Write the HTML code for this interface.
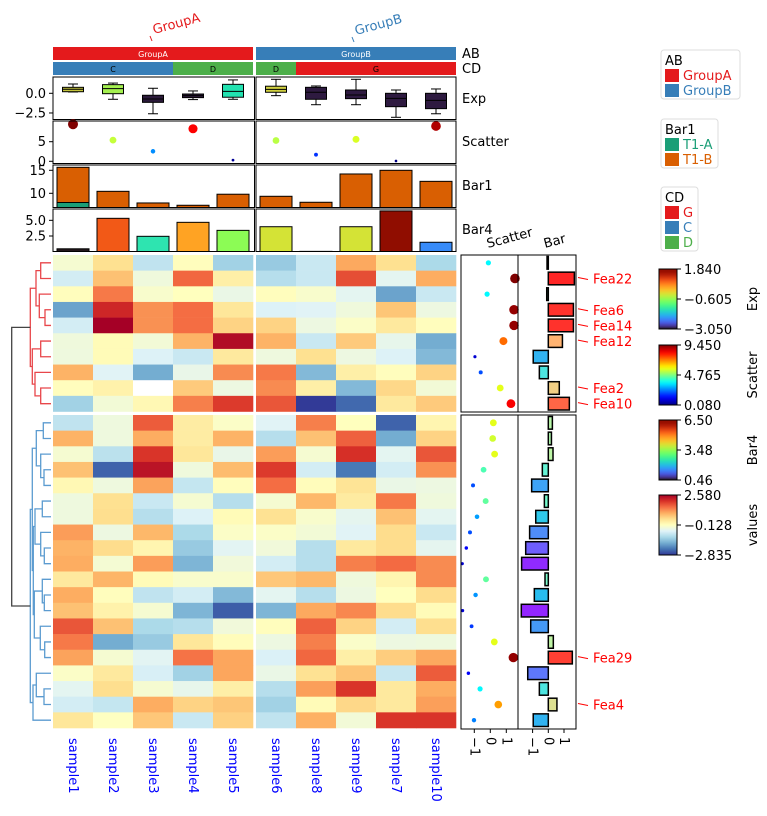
<!DOCTYPE html>
<html><head><meta charset="utf-8"><style>
html,body{margin:0;padding:0;background:#fff;}
svg{display:block;font-family:"DejaVu Sans","Liberation Sans",sans-serif;}
</style></head><body>
<svg id="c" width="767" height="816" viewBox="0 0 767 816" xmlns="http://www.w3.org/2000/svg"></svg>
<script>
// ---------- data ----------
const samples = ["sample1","sample2","sample3","sample4","sample5","sample6","sample8","sample9","sample7","sample10"];
const abGroups = ["GroupA","GroupA","GroupA","GroupA","GroupA","GroupB","GroupB","GroupB","GroupB","GroupB"];
const cdGroups = ["C","C","C","D","D","D","G","G","G","G"];
const heatTop = [
[-0.3,0.4,-1.0,-0.1,-1.3,-1.4,-0.9,1.0,0.4,-1.2],
[-0.8,0.75,-0.4,1.55,0.15,-1.1,-0.9,1.77,-0.6,0.96],
[-0.1,1.4,-0.25,-0.12,-0.5,-0.1,-0.25,-0.6,-1.85,-0.9],
[-1.85,2.15,1.2,1.5,0.3,-0.7,-0.65,-0.4,0.7,-0.45],
[-0.8,2.58,1.2,1.5,0.55,0.55,-0.45,-0.2,0.25,-0.1],
[-0.4,-0.05,-0.35,0.9,2.45,0.9,-0.9,0.65,-0.55,-1.75],
[-0.42,-0.05,-0.7,-0.9,0.25,-0.42,0.4,-0.45,-0.7,-1.6],
[0.9,-0.65,-1.75,-0.52,1.25,1.4,-1.6,0.15,-0.1,0.55],
[-0.1,0.1,null,0.65,-0.45,1.25,0.15,-1.6,0.5,-0.35],
[-1.3,-0.35,0.0,1.35,1.95,1.7,-2.8,-2.4,0.25,0.65]];
const heatBottom = [
[-1.0,-0.42,1.65,0.2,-0.2,-0.65,1.35,-0.12,-2.45,0.05],
[0.9,-0.42,0.96,0.2,0.9,-1.1,0.75,1.6,-1.75,0.55],
[-0.3,-1.05,2.0,0.3,-0.52,1.1,-0.3,2.05,-0.6,1.7],
[0.75,-2.45,2.35,-0.4,0.8,1.95,-0.8,-2.25,-0.8,1.2],
[0.0,-0.42,1.05,-0.95,-0.1,1.5,-0.08,0.35,-0.5,-0.45],
[-0.42,0.4,-0.9,-0.3,-1.1,-0.3,0.85,0.22,1.4,-0.4],
[-0.42,0.42,-1.1,-0.7,-0.05,0.38,-0.25,-0.58,0.75,-0.6],
[1.1,-0.45,0.85,-1.2,-0.2,-0.2,-0.35,-0.65,0.45,-0.9],
[0.9,0.45,0.05,-1.4,-0.62,-0.38,-1.1,0.25,0.45,-0.58],
[0.96,-0.32,1.1,-1.65,-0.38,-0.8,-1.1,1.35,1.52,1.25],
[0.25,0.88,-0.05,-0.25,-0.25,0.68,0.85,-0.4,0.05,1.25],
[0.96,-0.1,-1.0,-0.8,-1.6,-0.6,-1.1,-0.45,-0.12,0.45],
[0.75,0.1,-0.3,-1.65,-2.5,-1.65,1.0,1.28,0.45,-0.05],
[1.7,0.75,-1.2,-1.1,-0.38,-0.1,1.6,0.55,-0.8,0.42],
[1.4,-1.75,-1.4,0.3,-0.08,-0.45,1.35,-0.22,-0.45,-0.42],
[1.05,-0.3,-0.62,1.45,1.02,-0.72,1.55,0.15,0.62,1.0],
[-0.2,0.25,-0.75,-1.3,1.02,-0.5,0.38,0.72,-0.92,1.65],
[-0.6,0.42,-0.3,-0.55,0.15,-1.1,1.08,2.0,0.25,0.96],
[-0.8,-0.95,0.96,0.55,0.7,-1.3,-0.05,0.5,0.25,1.08],
[0.3,-0.15,0.68,-0.9,0.58,-1.0,0.92,-0.36,2.0,2.0]];
const expQ1 = [0.2,-0.05,-1.15,-0.55,-0.5,0.13,-0.76,-0.68,-1.7,-1.95];
const expQ3 = [0.76,1.1,-0.25,-0.09,1.14,0.9,0.76,0.42,0.0,0.0];
const expMed = [0.51,0.6,-0.72,-0.3,0.25,0.5,0.13,-0.22,-0.64,-0.9];
const expLo = [0.17,-0.76,-2.6,-0.8,-0.76,-0.3,-1.45,-1.45,-3.05,-2.6];
const expHi = [1.18,1.3,0.64,0.3,1.7,1.78,0.93,1.78,0.42,0.55];
const expColors = ["#c4c43c","#a4f050","#2b1a3a","#2b1a3a","#22e2b0","#d0d040","#2e1a40","#2e1a40","#2e1a40","#2e1a40"];
const scatterTop = [9.45,5.4,2.55,8.3,0.3,5.3,1.7,5.6,0.08,9.0];
const bar1A = [8.0,4.5,3.0,3.5,5.0,4.0,3.5,6.0,5.5,4.5];
const bar1Total = [15.65,10.43,7.9,7.4,9.8,9.35,8.05,14.2,15.0,12.6];
const bar4 = [0.46,5.32,2.45,4.68,3.4,3.98,0.05,3.98,6.5,1.5];
const rScatTop = [-0.12,1.54,-0.2,1.48,1.48,0.82,-0.96,-0.6,0.62,1.29];
const rScatBottom = [0.19,0.15,0.27,-0.42,-1.08,-0.29,-0.83,-1.27,-1.5,-1.75,-0.27,-0.92,-1.73,-1.17,0.25,1.44,-1.37,-0.64,0.5,-1.02];
const rScatColTop = [0.37,1.0,0.37,0.98,0.98,0.77,0.08,0.2,0.6,0.88];
const rScatColBottom = [0.6,0.58,0.6,0.45,0.2,0.47,0.28,0.2,0.12,0.08,0.47,0.27,0.08,0.18,0.6,0.98,0.12,0.37,0.72,0.25];
const rBarTop = [-0.08,1.66,-0.1,1.6,1.6,0.9,-0.96,-0.57,0.7,1.34];
const rBarBottom = [0.26,0.2,0.3,-0.38,-1.06,-0.25,-0.8,-1.19,-1.44,-1.7,-0.21,-0.89,-1.72,-1.12,0.32,1.53,-1.31,-0.57,0.55,-0.96];
const labelsTop = ["","Fea22","","Fea6","Fea14","Fea12","","","Fea2","Fea10"];
const labelsBottom = ["","","","","","","","","","","","","","","","Fea29","","","Fea4",""];
const expTicks = [0.0,-2.5], expTickLbl = ["0.0","\u22122.5"];
const scTicks = [5,0], b1Ticks=[15,10], b4Ticks=[5.0,2.5], b4TickLbl=["5.0","2.5"];
const rTicks = [-1,0,1], rTickLbl = ["\u22121","0","1"];

// ---------- helpers ----------
const S = document.getElementById('c'), NS = "http://www.w3.org/2000/svg";
function mk(tag, attrs, parent, name, inter){
  const e = document.createElementNS(NS, tag);
  for (const k in attrs) e.setAttribute(k, attrs[k]);
  if (name) {
    
    
  }
  (parent||S).appendChild(e); return e;
}
function txt(x,y,s,attrs,name){ const t = mk('text', Object.assign({x:x,y:y,'font-size':13},attrs||{}), null, name, false); t.textContent = s; return t; }
const cl = v=>Math.max(0,Math.min(1,v));
function hex(r,g,b){return "rgb("+Math.round(cl(r)*255)+","+Math.round(cl(g)*255)+","+Math.round(cl(b)*255)+")";}
function jet(t){return hex(1.5-Math.abs(4*t-3),1.5-Math.abs(4*t-2),1.5-Math.abs(4*t-1));}
function turbo(t){t=cl(t);
 const r=0.13572138+t*(4.61539260+t*(-42.66032258+t*(132.13108234+t*(-152.94239396+t*59.28637943))));
 const g=0.09140261+t*(2.19418839+t*(4.84296658+t*(-14.18503333+t*(4.27729857+t*2.82956604))));
 const b=0.10667330+t*(12.64194608+t*(-60.58204836+t*(110.36276771+t*(-89.90310912+t*27.34824973))));
 return hex(r,g,b);}
function rainbow(t){t=cl(t);return hex(Math.abs(2*t-0.5),Math.sin(Math.PI*t),Math.cos(Math.PI*t/2));}
const rdy = ["#313695","#4575b4","#74add1","#abd9e9","#e0f3f8","#ffffbf","#fee090","#fdae61","#f46d43","#d73027","#a50026"];
function h2r(h){return [parseInt(h.substr(1,2),16),parseInt(h.substr(3,2),16),parseInt(h.substr(5,2),16)];}
function rdylbu(t){t=cl(t)*10;const i=Math.min(9,Math.floor(t)),f=t-i;const a=h2r(rdy[i]),b=h2r(rdy[i+1]);
 return "rgb("+a.map((v,k)=>Math.round(v+(b[k]-v)*f)).join(",")+")";}
const HMIN=-2.835, HMAX=2.58;

// ---------- geometry ----------
const colX = j => j<5 ? 53+40*j : 256+40*(j-5);
const colC = j => colX(j)+20;
const RH = 15.65;
const rowTopY = i => 255+RH*i, rowBotY = i => 415+RH*i;

// ---------- heatmap ----------
const hg = mk('g',{},null,'heatmap-body',false);
function drawHeat(data, yf, nm){
  data.forEach((row,i)=>row.forEach((v,j)=>{
    const fill = v===null ? "#ffffff" : rdylbu((v-HMIN)/(HMAX-HMIN));
    const r = mk('rect',{x:colX(j),y:yf(i),width:40.3,height:RH+0.3,fill:fill},hg);
    
    
  }));
}
drawHeat(heatTop,rowTopY,'heatmap-top');
drawHeat(heatBottom,rowBotY,'heatmap-bottom');

// column labels
samples.forEach((s,j)=>{
  const t = txt(colC(j)-4,738,s,{fill:"#0000ff",transform:"rotate(90 "+(colC(j)-4)+" 738)"},'column-label');
});

// ---------- top annotations ----------
const abCol = {GroupA:"#e41a1c",GroupB:"#377eb8"}, cdCol = {C:"#377eb8",D:"#4daf4a",G:"#e41a1c"};
function runs(arr){const out=[];let s=0;for(let i=1;i<=arr.length;i++){if(i===arr.length||arr[i]!==arr[s]||i===5){out.push([s,i-1,arr[s]]);s=i;}}return out;}
runs(abGroups).forEach(([a,b,g])=>{
  mk('rect',{x:colX(a),y:47,width:colX(b)+40-colX(a),height:13,fill:abCol[g]},null,'ab-annotation-'+g.toLowerCase(),false);
  txt((colX(a)+colX(b)+40)/2,57,g,{'font-size':8,fill:"#fff",'text-anchor':'middle'},'ab-annotation-label');
});
runs(cdGroups).forEach(([a,b,g])=>{
  mk('rect',{x:colX(a),y:62,width:colX(b)+40-colX(a),height:13,fill:cdCol[g]},null,'cd-annotation-'+g.toLowerCase(),false);
  txt((colX(a)+colX(b)+40)/2,72,g,{'font-size':8,fill:"#000",'text-anchor':'middle'},'cd-annotation-label');
});
txt(154,34,"GroupA",{fill:"#e41a1c",transform:"rotate(-15 154 34)"},'group-a-title');
txt(356,35,"GroupB",{fill:"#377eb8",transform:"rotate(-15 356 35)"},'group-b-title');
mk('line',{x1:150,y1:36,x2:152,y2:41,stroke:"#e41a1c"},null,'group-a-tick',false);
mk('line',{x1:352,y1:37,x2:354,y2:42,stroke:"#377eb8"},null,'group-b-tick',false);

function panels(y0,y1,nm){
  mk('rect',{x:53,y:y0,width:201.5,height:y1-y0,fill:"none",stroke:"#000"},null,nm+'-panel-left',false);
  mk('rect',{x:256,y:y0,width:200,height:y1-y0,fill:"none",stroke:"#000"},null,nm+'-panel-right',false);
}
function yTicks(vals,lbls,yf,nm){vals.forEach((v,i)=>{const y=yf(v);
  mk('line',{x1:49,y1:y,x2:53,y2:y,stroke:"#000"},null,nm+'-tick',false);
  txt(46,y+4.5,lbls[i],{'text-anchor':'end'},nm+'-tick-label');});}

// Exp boxplot
const yExp = v => 93.3-7.87*v;
for(let j=0;j<10;j++){
  const c=colC(j), g=mk('g',{},null,'exp-box',false);
  mk('line',{x1:c,y1:yExp(expHi[j]),x2:c,y2:yExp(expQ3[j]),stroke:"#000"},g);
  mk('line',{x1:c,y1:yExp(expQ1[j]),x2:c,y2:yExp(expLo[j]),stroke:"#000"},g);
  mk('line',{x1:c-5,y1:yExp(expHi[j]),x2:c+5,y2:yExp(expHi[j]),stroke:"#000"},g);
  mk('line',{x1:c-5,y1:yExp(expLo[j]),x2:c+5,y2:yExp(expLo[j]),stroke:"#000"},g);
  mk('rect',{x:c-10.5,y:yExp(expQ3[j]),width:21,height:yExp(expQ1[j])-yExp(expQ3[j]),fill:expColors[j],stroke:"#000"},g);
  mk('line',{x1:c-10.5,y1:yExp(expMed[j]),x2:c+10.5,y2:yExp(expMed[j]),stroke:"#000"},g);
}
panels(77,119.5,'exp'); yTicks(expTicks,expTickLbl,yExp,'exp-y');
// Scatter top
const ySc = v => 161.3-3.92*v;
scatterTop.forEach((v,j)=>{
  const t=(v-0.08)/(9.45-0.08);
  mk('circle',{cx:colC(j),cy:ySc(v),r:1.3+3.7*t,fill:jet(t)},null,'scatter-point',false);
});
panels(121,163.5,'scatter'); yTicks(scTicks,["5","0"],ySc,'scatter-y');
// Bar1 stacked
const yB1 = v => 193.3-4.6*(v-10);
S.appendChild(mk('clipPath',{id:'cb1'},null)); mk('rect',{x:53,y:165,width:403,height:42.5},document.getElementById('cb1'));
const gb1 = mk('g',{'clip-path':'url(#cb1)'},null,'bar1-bars',false);
bar1Total.forEach((v,j)=>{
  const x=colX(j)+4, b=yB1(0);
  mk('rect',{x:x,y:yB1(v),width:32,height:yB1(bar1A[j])-yB1(v),fill:"#d95f02",stroke:"#000"},gb1,'bar1-t1b',false);
  mk('rect',{x:x,y:yB1(bar1A[j]),width:32,height:b-yB1(bar1A[j]),fill:"#1b9e77",stroke:"#000"},gb1,'bar1-t1a',false);
});
panels(165,207.5,'bar1'); yTicks(b1Ticks,["15","10"],yB1,'bar1-y');
// Bar4
const yB4 = v => 236-6.27*(v-2.5);
S.appendChild(mk('clipPath',{id:'cb4'},null)); mk('rect',{x:53,y:209,width:403,height:42},document.getElementById('cb4'));
const gb4 = mk('g',{'clip-path':'url(#cb4)'},null,'bar4-bars',false);
bar4.forEach((v,j)=>{
  mk('rect',{x:colX(j)+4,y:yB4(v),width:32,height:yB4(0)-yB4(v),fill:turbo((v-0.46)/(6.5-0.46)),stroke:"#000"},gb4,'bar4-bar',false);
});
panels(209,251.5,'bar4'); yTicks(b4Ticks,b4TickLbl,yB4,'bar4-y');
[["AB",58],["CD",73],["Exp",103],["Scatter",146],["Bar1",190],["Bar4",234]].forEach(([s,y])=>txt(462,y,s,{},'annotation-name-'+s.toLowerCase()));

// ---------- right annotations ----------
const xRS = v => 490.3+16*v, xRB = v => 548.3+15.7*v;
function rightSide(sc,scc,bars,labels,yf,y0,y1,nm){
  sc.forEach((v,i)=>{const t=scc[i];
    mk('circle',{cx:xRS(v),cy:yf(i)+RH/2,r:1.3+3.5*t,fill:jet(t)},null,'row-scatter-point',false);});
  bars.forEach((v,i)=>{const t=(v+1.72)/(1.66+1.72);
    mk('rect',{x:Math.min(xRB(0),xRB(v)),y:yf(i)+1.5,width:Math.abs(xRB(v)-xRB(0)),height:RH-3,fill:rainbow(t),'fill-opacity':0.85,stroke:"#000",'stroke-width':1.5},null,'row-bar',false);});
  mk('rect',{x:461,y:y0,width:57,height:y1-y0,fill:"none",stroke:"#000"},null,nm+'-scatter-panel',false);
  mk('rect',{x:518,y:y0,width:58,height:y1-y0,fill:"none",stroke:"#000"},null,nm+'-bar-panel',false);
  labels.forEach((s,i)=>{ if(!s) return; const y=yf(i)+RH/2;
    mk('line',{x1:578,y1:y-1,x2:588,y2:y+1,stroke:"#ff0000"},null,'feature-label-line',false);
    txt(593,y+5,s,{fill:"#ff0000"},'feature-label');});
}
rightSide(rScatTop,rScatColTop,rBarTop,labelsTop,rowTopY,255,412,'top');
rightSide(rScatBottom,rScatColBottom,rBarBottom,labelsBottom,rowBotY,415,729,'bottom');
txt(488,248,"Scatter",{transform:"rotate(-15 488 248)"},'row-scatter-title');
txt(545,248,"Bar",{transform:"rotate(-15 545 248)"},'row-bar-title');
rTicks.forEach((v,i)=>{
  [xRS(v),xRB(v)].forEach(x=>{
    mk('line',{x1:x,y1:729,x2:x,y2:733,stroke:"#000"},null,'right-x-tick',false);
    txt(x-4,737,rTickLbl[i],{transform:"rotate(90 "+(x-4)+" 737)"},'right-x-tick-label');
  });
});

// ---------- dendrogram ----------
const treeTop = [[[0,1,40.7],[2,[3,4,45],39.3],36],[[5,6,40.7],[7,[8,9,40.7],35],32.3],30.3];
const treeBot = [[[[0,1,43.3],[2,[3,4,44],40.7],36.3],[[[5,6,42.3],[7,[8,9,44.3],40.7],35],[[10,[11,12,44.3],42.3],[13,[14,15,44.7],40.3],34.3],33.3],32.3],[[16,[17,18,44],36.3],19,33],30.3];
function dendro(node,yf,col,g){
  if(typeof node==='number') return [51,yf(node)+RH/2];
  const a=dendro(node[0],yf,col,g), b=dendro(node[1],yf,col,g), x=node[2];
  mk('path',{d:"M"+a[0]+","+a[1]+"H"+x+"V"+b[1]+"H"+b[0],fill:"none",stroke:col,'stroke-width':1.3},g);
  return [x,(a[1]+b[1])/2];
}
const dg = mk('g',{},null,'row-dendrogram',false);
const tA = dendro(treeTop,rowTopY,"#e8464a",dg), tB = dendro(treeBot,rowBotY,"#5b9bd0",dg);
mk('path',{d:"M"+tA[0]+","+tA[1]+"H11.7V"+tB[1]+"H"+tB[0],fill:"none",stroke:"#444",'stroke-width':1.3},dg);

// ---------- legends ----------
function legend(x,y,w,title,items,nm){
  const h=19+items.length*15;
  mk('rect',{x:x,y:y,width:w,height:h,rx:3,fill:"#fff",stroke:"#ddd"},null,nm+'-legend-box',false);
  txt(x+4,y+15,title,{},nm+'-legend-title');
  items.forEach(([s,c],i)=>{
    mk('rect',{x:x+4,y:y+19+15*i,width:14,height:13,fill:c},null,nm+'-legend-swatch',false);
    txt(x+22,y+30+15*i,s,{fill:c},nm+'-legend-label');
  });
}
legend(661,50,79,"AB",[["GroupA","#e41a1c"],["GroupB","#377eb8"]],'ab');
legend(661,119,57,"Bar1",[["T1-A","#1b9e77"],["T1-B","#d95f02"]],'bar1');
legend(661,187,37,"CD",[["G","#e41a1c"],["C","#377eb8"],["D","#4daf4a"]],'cd');
const defs = mk('defs',{});
function cbar(y,fn,lbls,title,id){
  const gr = mk('linearGradient',{id:id,x1:0,y1:1,x2:0,y2:0},defs);
  for(let k=0;k<=20;k++) mk('stop',{offset:k/20,'stop-color':fn(k/20)},gr);
  mk('rect',{x:659,y:y,width:18,height:60,fill:"url(#"+id+")",stroke:"#000"},null,id+'-colorbar',false);
  lbls.forEach((s,i)=>{const yy=y+30*i;
    mk('line',{x1:677,y1:yy,x2:681,y2:yy,stroke:"#000"},null,id+'-colorbar-tick',false);
    txt(684,yy+5,s,{},id+'-colorbar-label');});
  txt(757,y+30,title,{'text-anchor':'middle',transform:"rotate(-90 757 "+(y+30)+")"},id+'-colorbar-title');
}
cbar(269,turbo,["1.840","\u22120.605","\u22123.050"],"Exp",'exp');
cbar(345,jet,["9.450","4.765","0.080"],"Scatter",'scatter');
cbar(420,turbo,["6.50","3.48","0.46"],"Bar4",'bar4');
cbar(495,rdylbu,["2.580","\u22120.128","\u22122.835"],"values",'values');
</script>
</body></html>
